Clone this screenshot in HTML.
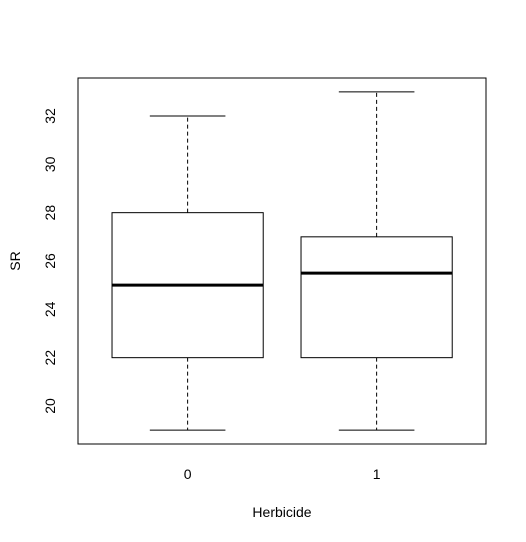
<!DOCTYPE html>
<html><head><meta charset="utf-8"><style>body{margin:0;background:#fff}svg{display:block;font-family:"Liberation Sans",Arial,sans-serif}</style></head>
<body>
<svg id="chart" width="526" height="542">
<rect x="78" y="78" width="408" height="366" fill="none" stroke="#000"/>
<text x="282" y="517" font-size="14" text-anchor="middle">Herbicide</text>
<text transform="translate(20,261) rotate(-90)" font-size="14" text-anchor="middle">SR</text>
</svg>
<script>
const categories = ["0","1"];
const mins = [19,19];
const q1s = [22,22];
const medians = [25,25.5];
const q3s = [28,27];
const maxs = [32,33];
const yTicks = [20,22,24,26,28,30,32];

const svg = document.getElementById('chart');
const NS = 'http://www.w3.org/2000/svg';
function y(v){ return 406 - (v-20)*(290/12); }
function x(i){ return 78 + (i+1-0.42)*189; }
function el(tag, attrs){ const e=document.createElementNS(NS,tag); for(const k in attrs) e.setAttribute(k,attrs[k]); svg.appendChild(e); return e; }

yTicks.forEach(t=>{
  const tx = el('text',{transform:`translate(55,${y(t)}) rotate(-90)`,'font-size':14,'text-anchor':'middle'});
  tx.textContent = t;
  
  
});
categories.forEach((c,i)=>{
  const cx = x(i), hw = 0.4*189, cw = 0.2*189;
  const tx = el('text',{x:cx,y:479,'font-size':14,'text-anchor':'middle'});
  tx.textContent = c;
  
  
  const w1 = el('line',{x1:cx,x2:cx,y1:y(q3s[i]),y2:y(maxs[i]),stroke:'#000','stroke-dasharray':'4,3'});
  
  
  const w2 = el('line',{x1:cx,x2:cx,y1:y(q1s[i]),y2:y(mins[i]),stroke:'#000','stroke-dasharray':'4,3'});
  
  
  const c1 = el('line',{x1:cx-cw,x2:cx+cw,y1:y(maxs[i]),y2:y(maxs[i]),stroke:'#000'});
  
  
  const c2 = el('line',{x1:cx-cw,x2:cx+cw,y1:y(mins[i]),y2:y(mins[i]),stroke:'#000'});
  
  
  const b = el('rect',{x:cx-hw,y:y(q3s[i]),width:2*hw,height:y(q1s[i])-y(q3s[i]),fill:'#fff',stroke:'#000'});
  
  
  const m = el('line',{x1:cx-hw,x2:cx+hw,y1:y(medians[i]),y2:y(medians[i]),stroke:'#000','stroke-width':3});
  
  
});
</script>
</body></html>
